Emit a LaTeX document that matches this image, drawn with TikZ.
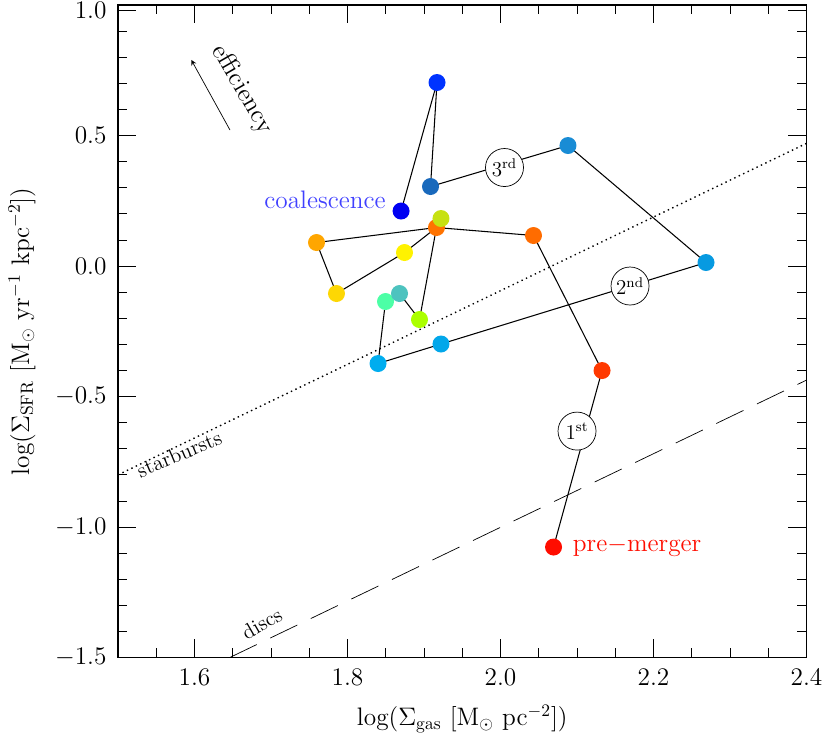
\documentclass[tikz,border=0pt]{standalone}
\usetikzlibrary{positioning}

\begin{document}
\begin{tikzpicture}[%
  x = 15.3cm, y = 5.22cm,
  font = \Large,
  pt/.style    = {circle, fill=#1, inner sep=0pt, minimum size=3.4mm},
  stage/.style = {circle, draw, fill=white, inner sep=1pt, minimum size=7.6mm,
                  font=\large},
  track/.style = {semithick}
]
  \useasboundingbox (1.3458,-1.8333) rectangle (2.4307,1.0192);

  % model lines
  \draw[dotted, thick] (1.5,-0.8) -- (2.4,0.47);
  \draw[dash pattern=on 6mm off 3mm] (1.646,-1.5) -- (2.4,-0.437);
  \node[rotate=23, font=\large] (sb) at (1.58,-0.72) {starbursts};
  \node[rotate=30, font=\large] (dc) at (1.688,-1.37) {discs};

  % merger track
  \draw[track] (2.0693,-1.0766) -- (2.1327,-0.4004) -- (2.0431,0.1169)
    -- (1.9163,0.1475) -- (1.7595,0.0900) -- (1.7856,-0.1054) -- (1.8745,0.0517)
    -- (1.9163,0.1475) -- (1.8941,-0.2050) -- (1.8680,-0.1054)
    -- (1.8497,-0.1360) -- (1.8399,-0.3736) -- (1.9222,-0.2988)
    -- (2.2686,0.0134) -- (2.0882,0.4617) -- (1.9085,0.3046)
    -- (1.9170,0.7031) -- (1.8700,0.2107);
  \foreach \px/\py/\c in {%
      2.0693/-1.0766/{red!90!orange},
      2.1327/-0.4004/{red!55!orange},
      2.0431/0.1169/{orange!85!red},
      1.9163/0.1475/{orange!90!red},
      1.7595/0.0900/{orange!70!yellow},
      1.7856/-0.1054/{yellow!75!orange},
      1.8745/0.0517/{yellow},
      1.9222/0.1820/{yellow!80!green!60!lime},
      1.8941/-0.2050/{lime!60!green!60!yellow},
      1.8497/-0.1360/{green!50!cyan!70!white},
      1.8680/-0.1054/{cyan!60!green!70!white},
      1.8399/-0.3736/{cyan},
      1.9222/-0.2988/{cyan!95!blue},
      2.2686/0.0134/{cyan!85!blue},
      2.0882/0.4617/{cyan!70!blue!95!white},
      1.9085/0.3046/{cyan!45!blue},
      1.9170/0.7031/{blue!80!cyan},
      1.8700/0.2107/{blue!95!black}}
    \node[pt=\c] at (\px,\py) {};

  \node[stage] (s1) at (2.1,-0.6324) {1$^{\mathrm{st}}$};
  \node[stage] (s2) at (2.1693,-0.0766) {2$^{\mathrm{nd}}$};
  \node[stage] (s3) at (2.0052,0.3774) {3$^{\mathrm{rd}}$};

  \node[text=red!90!orange, anchor=west] (pm) at (2.0865,-1.0766) {pre$-$merger};
  \node[text=blue!75!white, anchor=east] (co) at (1.858,0.2529) {coalescence};

  % efficiency arrow
  \coordinate (ea) at (1.6464,0.521);
  \coordinate (eb) at (1.598,0.778);
  \draw[->, >=stealth, thin, shorten >=-2pt] (ea) -- (eb);
  \node[rotate=-60] (ef) at (1.662,0.675) {efficiency};

  % axes
  \draw[thick] (1.5,-1.5) rectangle (2.4,1.0);
  \foreach \x in {1.6,1.8,...,2.41}
    \node[below=3pt] at (\x,-1.5) {\pgfmathprintnumber[fixed,precision=1,fixed zerofill]{\x}};
  \foreach \x in {1.5,1.55,...,2.41} {
    \draw (\x,-1.5) -- ++(0,0.035);
    \draw (\x,1.0) -- ++(0,-0.035);
  }
  \foreach \x in {1.6,1.8,...,2.41} {
    \draw (\x,-1.5) -- ++(0,0.07);
    \draw (\x,1.0) -- ++(0,-0.07);
  }
  \foreach \y in {-1.5,-1.4,...,1.01} {
    \draw (1.5,\y) -- ++(0.012,0);
    \draw (2.4,\y) -- ++(-0.012,0);
  }
  \foreach \y/\t in {-1.5/$-1.5$,-1.0/$-1.0$,-0.5/$-0.5$,0.0/0.0,0.5/0.5,0.98/1.0} {
    \draw (1.5,\y) -- ++(0.024,0);
    \draw (2.4,\y) -- ++(-0.024,0);
    \node[left=3pt] at (1.5,\y) {\t};
  }
  \node (xl) at (1.95,-1.734) {log($\Sigma_{\mathrm{gas}}$ [M$_\odot$ pc$^{-2}$])};
  \node[rotate=90] (yl) at (1.3745,-0.25) {log($\Sigma_{\mathrm{SFR}}$ [M$_\odot$ yr$^{-1}$ kpc$^{-2}$])};
\end{tikzpicture}
\end{document}
